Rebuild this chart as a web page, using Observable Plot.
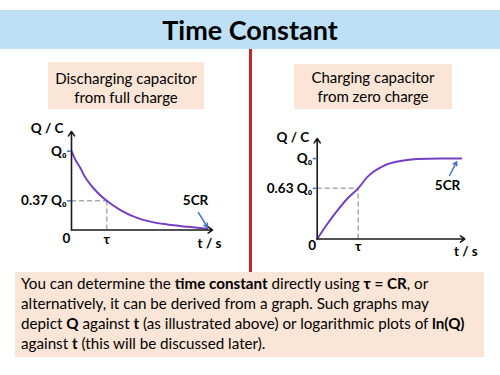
<!DOCTYPE html>
<html>
<head>
<meta charset="utf-8">
<script src="https://cdn.jsdelivr.net/npm/d3@7"></script>
<script src="https://cdn.jsdelivr.net/npm/@observablehq/plot@0.6"></script>
<style>
  html, body { margin: 0; padding: 0; background: #fff; }
  #root { position: relative; width: 500px; height: 375px; overflow: hidden; font-family: Lato, "Open Sans", sans-serif; color: #000; }
  .banner { position: absolute; left: 0; top: 10px; width: 500px; height: 39px; background: #bde0f6; text-align: center; font-weight: bold; font-size: 27px; line-height: 39px; }
  .divider { position: absolute; left: 248.5px; top: 49px; width: 3px; height: 223px; background: #c3262c; }
  .box { position: absolute; background: #fbe5d6; text-align: center; font-size: 15px; line-height: 19px; box-sizing: border-box; white-space: nowrap; }
  .note { position: absolute; left: 15px; top: 272px; width: 469px; height: 85px; background: #fbe5d6; box-sizing: border-box; padding: 1px 0 0 6px; font-size: 15.2px; line-height: 20px; white-space: nowrap; }
  .chart { position: absolute; top: 115px; }
  .chart svg { overflow: visible; }
</style>
</head>
<body>
<div id="root">
  <div class="banner" id="title"></div>
  <div class="divider"></div>
  <div class="box" id="leftBox" style="left:48px; top:62px; width:156px; height:47px; padding-top:7px;"></div>
  <div class="box" id="rightBox" style="left:294px; top:64px; width:158px; height:45px; padding-top:4px;"></div>
  <div class="chart" id="leftChart" style="left:0px;"></div>
  <div class="chart" id="rightChart" style="left:250px;"></div>
  <div class="note" id="note"></div>
</div>
<script>
// ---- texts ----
const titleText = "Time Constant";
const leftHeading = ["Discharging capacitor", "from full charge"];
const rightHeading = ["Charging capacitor", "from zero charge"];
const noteLines = [
  "You can determine the <b>time constant</b> directly using <b>τ = CR</b>, or",
  "alternatively, it can be derived from a graph. Such graphs may",
  "depict <b>Q</b> against <b>t</b> (as illustrated above) or logarithmic plots of <b>ln(Q)</b>",
  "against <b>t</b> (this will be discussed later)."
];

// ---- discharging curve (t in units of τ, Q in units of Q0) ----
const dischargeT = [0, 0.1, 0.26, 0.36, 0.55, 0.75, 1, 1.4, 1.77, 2.3, 2.72, 3.3, 3.85];
const dischargeQ = [1, 0.9, 0.78, 0.69, 0.57, 0.47, 0.37, 0.25, 0.17, 0.1, 0.07, 0.04, 0.015];
const dischargeTicksQ = [1, 0.37];
const dischargeTickLabels = ["Q₀", "0.37 Q₀"];
const dischargeTickT = [1];
const dischargeTickTLabels = ["τ"];
const dischargeAxisMax = {t: 4, q: 1.25};

// ---- charging curve ----
const chargeT = [0, 0.25, 0.5, 0.75, 1, 1.22, 1.62, 2.03, 2.44, 3.0, 3.51];
const chargeQ = [0, 0.19, 0.36, 0.51, 0.63, 0.77, 0.91, 0.97, 0.995, 1, 1];
const chargeTicksQ = [1, 0.63];
const chargeTickLabels = ["Q₀", "0.63 Q₀"];
const chargeTickT = [1];
const chargeTickTLabels = ["τ"];
const chargeAxisMax = {t: 3.6, q: 1.25};

// ---- annotation "5CR" (label position and arrow, data units) ----
const dischargeNote = {label: "5CR", t: 3.52, q: 0.37, t1: 3.6, q1: 0.22, t2: 3.86, q2: 0.035};
const chargeNote = {label: "5CR", t: 3.18, q: 0.665, t1: 3.23, q1: 0.79, t2: 3.4, q2: 0.96};
const axisLabels = {y: "Q / C", x: "t / s", origin: "0"};

document.getElementById("title").textContent = titleText;
document.getElementById("leftBox").innerHTML = leftHeading.join("<br>");
document.getElementById("rightBox").innerHTML = rightHeading.join("<br>");
document.getElementById("note").innerHTML = noteLines.join("<br>");

const curveColor = "#7340c2";
const tickColor = "#4472c4";
const dashColor = "#a9a9a9";
const axisColor = "#1a1a1a";

function makeChart(cfg) {
  const curve = cfg.T.map((t, i) => ({t, q: cfg.Q[i]}));
  const ticks = cfg.ticksQ.map((q, i) => ({q, label: cfg.tickLabels[i]}));
  const xticks = cfg.tickT.map((t, i) => ({t, label: cfg.tickTLabels[i]}));
  const guide = ticks.filter(d => d.q !== 1).map(d => ({q: d.q, t: cfg.tickT[0]}));
  const axes = [
    {x1: 0, y1: 0, x2: 0, y2: cfg.max.q},
    {x1: 0, y1: 0, x2: cfg.max.t, y2: 0}
  ];
  const n = cfg.note;
  return Plot.plot({
    width: 250,
    height: 150,
    marginLeft: cfg.margins[0],
    marginRight: cfg.margins[1],
    marginTop: cfg.margins[2],
    marginBottom: cfg.margins[3],
    x: {domain: [0, cfg.max.t], axis: null},
    y: {domain: [0, cfg.max.q], axis: null},
    style: {fontFamily: "Lato, sans-serif", fontWeight: "bold", fontSize: "13.5px", background: "transparent", color: "#000", overflow: "visible"},
    marks: [
      // dashed guides
      Plot.ruleY(guide, {y: "q", x1: 0, x2: "t", stroke: dashColor, strokeWidth: 1.5, strokeDasharray: "5,3"}),
      Plot.ruleX(guide, {x: "t", y1: 0, y2: "q", stroke: dashColor, strokeWidth: 1.5, strokeDasharray: "5,3"}),
      // curve
      Plot.line(curve, {x: "t", y: "q", curve: "monotone-x", stroke: curveColor, strokeWidth: 2}),
      // axes
      Plot.arrow(axes, {x1: "x1", y1: "y1", x2: "x2", y2: "y2", stroke: axisColor, strokeWidth: 1.6, headLength: 5, headAngle: 70}),
      // y ticks
      Plot.ruleY(ticks, {y: "q", x1: 0, x2: 0, insetLeft: -4, stroke: tickColor, strokeWidth: 1.5}),
      Plot.text(ticks, {y: "q", x: 0, text: "label", textAnchor: "end", dx: -5}),
      // x tick labels
      Plot.text(xticks, {x: "t", y: 0, text: "label", dy: cfg.xLabelDy}),
      Plot.text([axisLabels.origin], {x: 0, y: 0, text: d => d, dx: -5, dy: cfg.xLabelDy - 1}),
      // axis titles
      Plot.text([axisLabels.y], {x: 0, y: cfg.max.q, text: d => d, textAnchor: "end", dx: -8, dy: cfg.yTitleDy}),
      Plot.text([axisLabels.x], {x: cfg.max.t, y: 0, text: d => d, dx: cfg.xTitleDx, dy: cfg.xTitleDy}),
      // 5CR annotation
      Plot.text([n], {x: "t", y: "q", text: "label"}),
      Plot.arrow([n], {x1: "t1", y1: "q1", x2: "t2", y2: "q2", stroke: tickColor, strokeWidth: 1.5, headLength: 4, headAngle: 60})
    ]
  });
}

document.getElementById("leftChart").appendChild(makeChart({
  T: dischargeT, Q: dischargeQ, ticksQ: dischargeTicksQ, tickLabels: dischargeTickLabels,
  tickT: dischargeTickT, tickTLabels: dischargeTickTLabels, max: dischargeAxisMax, note: dischargeNote,
  margins: [71, 38, 16, 35.5], xLabelDy: 10, yTitleDy: -3, xTitleDx: -3, xTitleDy: 14
}));
document.getElementById("rightChart").appendChild(makeChart({
  T: chargeT, Q: chargeQ, ticksQ: chargeTicksQ, tickLabels: chargeTickLabels,
  tickT: chargeTickT, tickTLabels: chargeTickTLabels, max: chargeAxisMax, note: chargeNote,
  margins: [66.7, 35.7, 23, 26.5], xLabelDy: 8, yTitleDy: -1, xTitleDx: 1, xTitleDy: 12.5
}));
</script>
</body>
</html>
